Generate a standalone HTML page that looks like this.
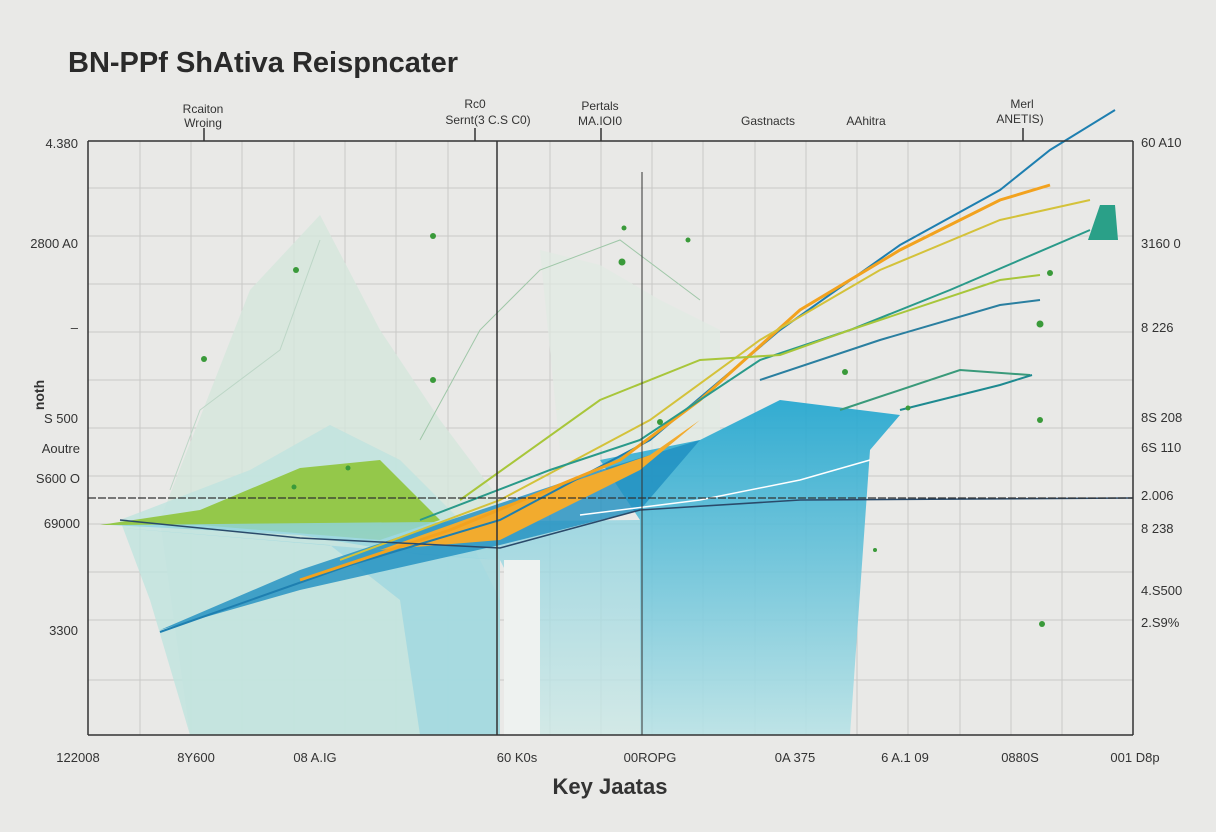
<!DOCTYPE html>
<html><head><meta charset="utf-8"><style>
body{margin:0;background:#e9e9e7;}
svg{display:block;font-family:"Liberation Sans",sans-serif;}
</style></head><body>
<svg width="1216" height="832" viewBox="0 0 1216 832">
<defs>
<linearGradient id="cy" x1="0" y1="0" x2="0" y2="1"><stop offset="0" stop-color="#8fd3e0"/><stop offset="1" stop-color="#cde9e6"/></linearGradient>
<linearGradient id="bl" x1="0" y1="0" x2="0" y2="1"><stop offset="0" stop-color="#1ea5cf"/><stop offset="1" stop-color="#b9e3e6"/></linearGradient>
</defs>
<rect width="1216" height="832" fill="#e9e9e7"/>
<text x="68" y="72" font-size="29" font-weight="bold" fill="#2a2a2a">BN-PPf ShAtiva Reispncater</text>
<!-- grid -->
<g stroke="#c9c9c7" stroke-width="1">
<line x1="88" y1="188" x2="1133" y2="188"/><line x1="88" y1="236" x2="1133" y2="236"/><line x1="88" y1="284" x2="1133" y2="284"/><line x1="88" y1="332" x2="1133" y2="332"/><line x1="88" y1="380" x2="1133" y2="380"/><line x1="88" y1="428" x2="1133" y2="428"/><line x1="88" y1="476" x2="1133" y2="476"/><line x1="88" y1="524" x2="1133" y2="524"/><line x1="88" y1="572" x2="1133" y2="572"/><line x1="88" y1="620" x2="1133" y2="620"/><line x1="88" y1="680" x2="1133" y2="680"/>
<line x1="140" y1="141" x2="140" y2="735"/><line x1="191" y1="141" x2="191" y2="735"/><line x1="242" y1="141" x2="242" y2="735"/><line x1="294" y1="141" x2="294" y2="735"/><line x1="345" y1="141" x2="345" y2="735"/><line x1="396" y1="141" x2="396" y2="735"/><line x1="448" y1="141" x2="448" y2="735"/><line x1="550" y1="141" x2="550" y2="735"/><line x1="601" y1="141" x2="601" y2="735"/><line x1="652" y1="141" x2="652" y2="735"/><line x1="703" y1="141" x2="703" y2="735"/><line x1="755" y1="141" x2="755" y2="735"/><line x1="806" y1="141" x2="806" y2="735"/><line x1="857" y1="141" x2="857" y2="735"/><line x1="908" y1="141" x2="908" y2="735"/><line x1="960" y1="141" x2="960" y2="735"/><line x1="1011" y1="141" x2="1011" y2="735"/><line x1="1062" y1="141" x2="1062" y2="735"/>
</g>
<!-- areas -->
<path d="M160 520 L250 290 L320 215 L380 330 L440 420 L500 500 L500 735 L190 735 Z" fill="#d4e6dc" opacity="0.8"/>
<path d="M120 520 L250 470 L330 425 L400 460 L460 520 L500 600 L500 735 L190 735 L150 600 Z" fill="#bfe3df" opacity="0.8"/>
<path d="M540 250 L600 265 L660 300 L720 330 L720 450 L560 450 Z" fill="#dfe9e2" opacity="0.7"/>
<path d="M100 525 L200 510 L300 468 L380 460 L440 520 L380 540 L200 525 Z" fill="#94c84a"/>
<path d="M110 525 L300 535 L420 555 L500 560 L520 600 L540 735 L640 735 L640 520 Z" fill="url(#cy)" opacity="0.8"/>
<path d="M110 527 L330 545 L400 600 L420 735 L500 735 L500 560 Z" fill="#9ad6df" opacity="0.7"/>
<path d="M600 460 L700 440 L780 400 L860 410 L900 415 L870 450 L850 735 L640 735 L640 520 Z" fill="url(#bl)" opacity="0.9"/>
<path d="M160 630 L300 570 L450 520 L600 470 L700 440 L640 510 L500 545 L300 590 Z" fill="#1e8fc0" opacity="0.8"/>
<path d="M380 550 L520 500 L650 455 L700 420 L640 470 L500 540 Z" fill="#f2ab2e"/>
<rect x="504" y="560" width="36" height="175" fill="#eef2f0"/>
<!-- lines -->
<g fill="none" stroke-width="2">
<path d="M160 632 L350 565 L500 520 L650 440 L780 330 L900 245 L1000 190 L1050 150 L1115 110" stroke="#1e7fb0"/>
<path d="M300 580 L450 530 L620 460 L700 400 L800 310 L900 250 L1000 200 L1050 185" stroke="#f2a21e" stroke-width="3"/>
<path d="M340 560 L500 500 L650 420 L760 340 L880 270 L1000 220 L1090 200" stroke="#d4c23a"/>
<path d="M420 520 L550 470 L640 440 L760 360 L850 330 L950 290 L1090 230" stroke="#2a9a8a"/>
<path d="M460 500 L600 400 L700 360 L780 355 L850 330 L1000 280 L1040 275" stroke="#a8c63a"/>
<path d="M760 380 L880 340 L1000 305 L1040 300" stroke="#2a7fa0"/>
<path d="M840 410 L960 370 L1030 375" stroke="#3a9a7a"/>
<path d="M900 410 L1000 385 L1032 375" stroke="#1e8a90"/>
<path d="M580 515 L700 500 L800 480 L870 460" stroke="#ffffff" stroke-width="1.5"/>
<path d="M120 520 L300 538 L500 548 L640 510 L800 500 L1133 498" stroke="#2a4a6a" stroke-width="1.5"/>
<path d="M420 440 L480 330 L540 270 L620 240 L700 300" stroke="#9fc7a8" stroke-width="1"/>
<path d="M170 490 L200 410 L280 350 L320 240" stroke="#bcd6c6" stroke-width="1"/>
</g>
<line x1="88" y1="498" x2="1133" y2="498" stroke="#333" stroke-width="1.2" stroke-dasharray="8 2"/>
<!-- dots -->
<g fill="#3a9a3a">
<circle cx="204" cy="359" r="3"/><circle cx="296" cy="270" r="3"/><circle cx="433" cy="236" r="3"/><circle cx="433" cy="380" r="3"/><circle cx="622" cy="262" r="3.5"/><circle cx="624" cy="228" r="2.5"/><circle cx="688" cy="240" r="2.5"/><circle cx="1040" cy="324" r="3.5"/><circle cx="1040" cy="420" r="3"/><circle cx="1042" cy="624" r="3"/><circle cx="845" cy="372" r="3"/><circle cx="908" cy="408" r="2.5"/><circle cx="294" cy="487" r="2.5"/><circle cx="348" cy="468" r="2.5"/><circle cx="875" cy="550" r="2"/><circle cx="660" cy="422" r="3"/><circle cx="1050" cy="273" r="3"/>
</g>
<path d="M1088 240 L1100 205 L1115 205 L1118 240 Z" fill="#2aa088"/>
<!-- axes -->
<g stroke="#333" stroke-width="1.5">
<line x1="88" y1="141" x2="88" y2="735"/><line x1="1133" y1="141" x2="1133" y2="735"/><line x1="88" y1="141" x2="1133" y2="141"/><line x1="88" y1="735" x2="1133" y2="735"/>
<line x1="497" y1="141" x2="497" y2="735"/><line x1="642" y1="172" x2="642" y2="735" stroke-width="1"/>
<line x1="204" y1="128" x2="204" y2="141"/><line x1="475" y1="128" x2="475" y2="141"/><line x1="601" y1="128" x2="601" y2="141"/><line x1="1023" y1="128" x2="1023" y2="141"/>
</g>
<!-- labels -->
<g font-size="13" fill="#333">
<text x="203" y="113" text-anchor="middle" font-size="12">Rcaiton</text><text x="203" y="127" text-anchor="middle" font-size="12">Wroing</text>
<text x="475" y="108" text-anchor="middle" font-size="12">Rc0</text><text x="488" y="124" text-anchor="middle" font-size="12">Sernt(3 C.S C0)</text>
<text x="600" y="110" text-anchor="middle" font-size="12">Pertals</text><text x="600" y="125" text-anchor="middle" font-size="12">MA.IOI0</text>
<text x="768" y="125" text-anchor="middle" font-size="12">Gastnacts</text><text x="866" y="125" text-anchor="middle" font-size="12">AAhitra</text>
<text x="1022" y="108" text-anchor="middle" font-size="12">Merl</text><text x="1020" y="123" text-anchor="middle" font-size="12">ANETIS)</text>
<g text-anchor="end">
<text x="78" y="148">4.380</text><text x="78" y="248">2800 A0</text><text x="78" y="332">–</text><text x="78" y="423">S 500</text><text x="80" y="453">Aoutre</text><text x="80" y="483">S600 O</text><text x="80" y="528">69000</text><text x="78" y="635">3300</text>
</g>
<text x="44" y="395" transform="rotate(-90 44 395)" font-size="14" font-weight="bold" text-anchor="middle">noth</text>
<text x="1141" y="147">60 A10</text><text x="1141" y="248">3160 0</text><text x="1141" y="332">8 226</text><text x="1141" y="422">8S 208</text><text x="1141" y="452">6S 110</text><text x="1141" y="500">2.006</text><text x="1141" y="533">8 238</text><text x="1141" y="595">4.S500</text><text x="1141" y="627">2.S9%</text>
<text x="78" y="762" text-anchor="middle">122008</text><text x="196" y="762" text-anchor="middle">8Y600</text><text x="315" y="762" text-anchor="middle">08 A.IG</text><text x="517" y="762" text-anchor="middle">60 K0s</text><text x="650" y="762" text-anchor="middle">00ROPG</text><text x="795" y="762" text-anchor="middle">0A 375</text><text x="905" y="762" text-anchor="middle">6 A.1 09</text><text x="1020" y="762" text-anchor="middle">0880S</text><text x="1135" y="762" text-anchor="middle">001 D8p</text>
</g>
<text x="610" y="794" text-anchor="middle" font-size="22" font-weight="bold" fill="#333">Key Jaatas</text>
</svg>
</body></html>
